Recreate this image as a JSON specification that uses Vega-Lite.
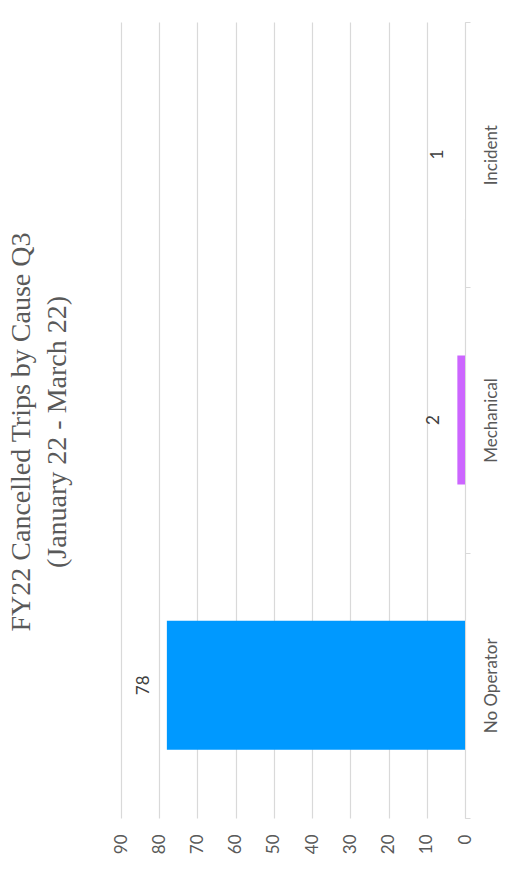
{
  "$schema": "https://vega.github.io/schema/vega-lite/v6.json",
  "width": 344,
  "height": 796,
  "autosize": {"type": "none"},
  "padding": {"left": 121, "top": 22, "right": 44, "bottom": 56},
  "background": "white",
  "title": {
    "text": ["FY22 Cancelled Trips by Cause Q3", "(January 22 - March 22)"],
    "orient": "left",
    "anchor": "middle",
    "frame": "group",
    "font": "Liberation Serif",
    "fontSize": 28,
    "fontWeight": "normal",
    "color": "#595959",
    "lineHeight": 36,
    "offset": 40,
    "dx": -12
  },
  "data": {
    "values": [
      {"cause": "No Operator", "trips": 78},
      {"cause": "Mechanical", "trips": 2},
      {"cause": "Incident", "trips": 1}
    ]
  },
  "encoding": {
    "y": {
      "field": "cause",
      "type": "nominal",
      "sort": ["Incident", "Mechanical", "No Operator"],
      "scale": {"paddingInner": 0, "paddingOuter": 0},
      "axis": {
        "orient": "right",
        "title": null,
        "labelAngle": -90,
        "labelAlign": "center",
        "labelBaseline": "top",
        "labelFont": "Lato",
        "labelFontSize": 17,
        "labelColor": "#595959",
        "labelPadding": 13,
        "tickBand": "extent",
        "tickSize": 5,
        "tickColor": "#d9d9d9",
        "domainColor": "#d9d9d9",
        "grid": false
      }
    },
    "x": {
      "field": "trips",
      "type": "quantitative",
      "scale": {"domain": [0, 90], "reverse": true, "nice": false},
      "axis": {
        "orient": "bottom",
        "title": null,
        "values": [0, 10, 20, 30, 40, 50, 60, 70, 80, 90],
        "labelAngle": -90,
        "labelAlign": "right",
        "labelBaseline": "middle",
        "labelPadding": 16,
        "ticks": false,
        "domain": false,
        "grid": true,
        "gridColor": "#d9d9d9",
        "gridWidth": 1.2,
        "labelFont": "Lato",
        "labelFontSize": 17,
        "labelColor": "#595959"
      }
    }
  },
  "layer": [
    {
      "mark": {"type": "bar", "height": {"band": 0.486}},
      "encoding": {
        "color": {
          "field": "cause",
          "type": "nominal",
          "scale": {"domain": ["No Operator", "Mechanical", "Incident"], "range": ["#0099FF", "#CC66FF", "#FFFFFF"]},
          "legend": null
        }
      }
    },
    {
      "mark": {"type": "text", "angle": 270, "align": "center", "baseline": "middle", "dy": -23, "font": "Lato", "fontSize": 17, "color": "#404040"},
      "encoding": {"text": {"field": "trips", "type": "quantitative"}}
    }
  ],
  "config": {"view": {"stroke": null}}
}
